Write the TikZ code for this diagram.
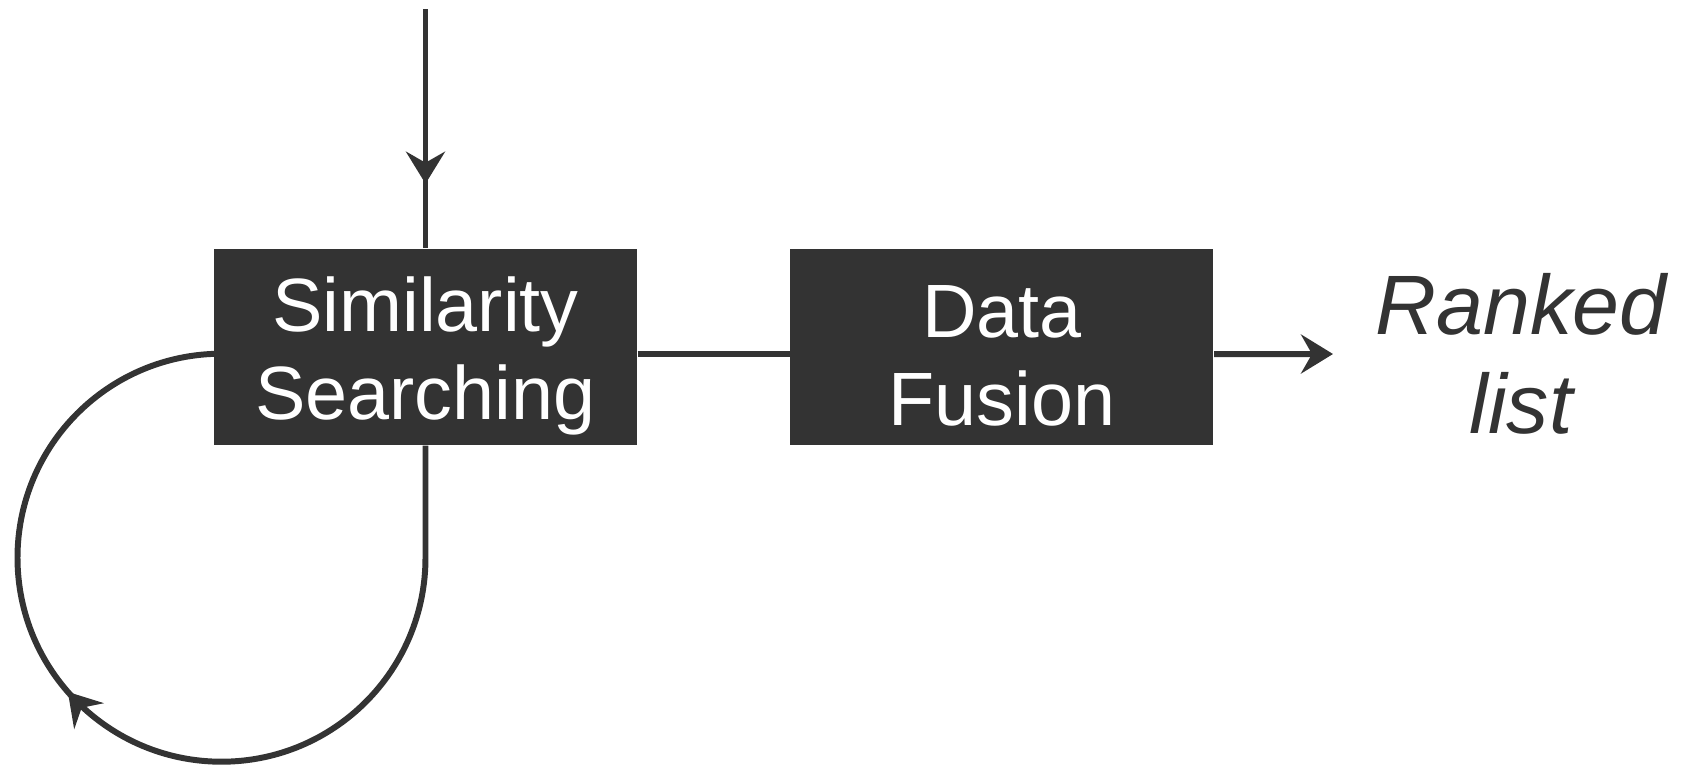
\documentclass[tikz,border=0pt]{standalone}
\usepackage{fontspec}
\setmainfont{Liberation Sans}
\usetikzlibrary{positioning, arrows.meta, decorations.markings, backgrounds}
\definecolor{ink}{HTML}{333333}

\begin{document}
\begin{tikzpicture}[
  >={Stealth[length=3.2mm, width=3.9mm, inset=1.1mm]},
  proc/.style={rectangle, fill=ink, minimum width=4.23cm, minimum height=1.96cm, inner sep=0pt},
  proctext/.style={text=white, align=center, font=\fontsize{21.5}{25}\selectfont, inner sep=0pt, yshift=-0.09cm},
  link/.style={line width=1.7pt, draw=ink},
  midarrow/.style={postaction={decorate}, decoration={markings, mark=at position #1 with {\arrow{>}}}},
  outlbl/.style={font=\fontsize{24}{28}\selectfont\itshape, text=ink, align=center, inner sep=0pt}
]
\useasboundingbox (0,0) rectangle (16.88,-7.67);

% ===== Blocks =====
\node[proc, label={[proctext]center:Similarity\\Searching}] (sim) at (4.255,-3.47) {};
\node[proc, right=1.52cm of sim, label={[proctext]center:Data\\Fusion}] (fus) {};
\node[outlbl] (rank) at (15.21,-3.54) {Ranked\\list};

% free ends
\coordinate (in) at (4.255,-0.09);
\coordinate (out) at (13.33,-3.54);

% ===== Links =====
\draw[link, midarrow=0.73] (in) -- (sim.north);
\draw[link] ([yshift=-0.07cm]sim.east) -- ([yshift=-0.07cm]fus.west);
\draw[link, ->] ([yshift=-0.07cm]fus.east) -- (out);

% feedback loop
\begin{scope}[on background layer]
\draw[link, midarrow=0.565] (sim.south) -- ++(0,-1.12) arc[start angle=0, end angle=-270, radius=2.04];
\end{scope}

\end{tikzpicture}
\end{document}
